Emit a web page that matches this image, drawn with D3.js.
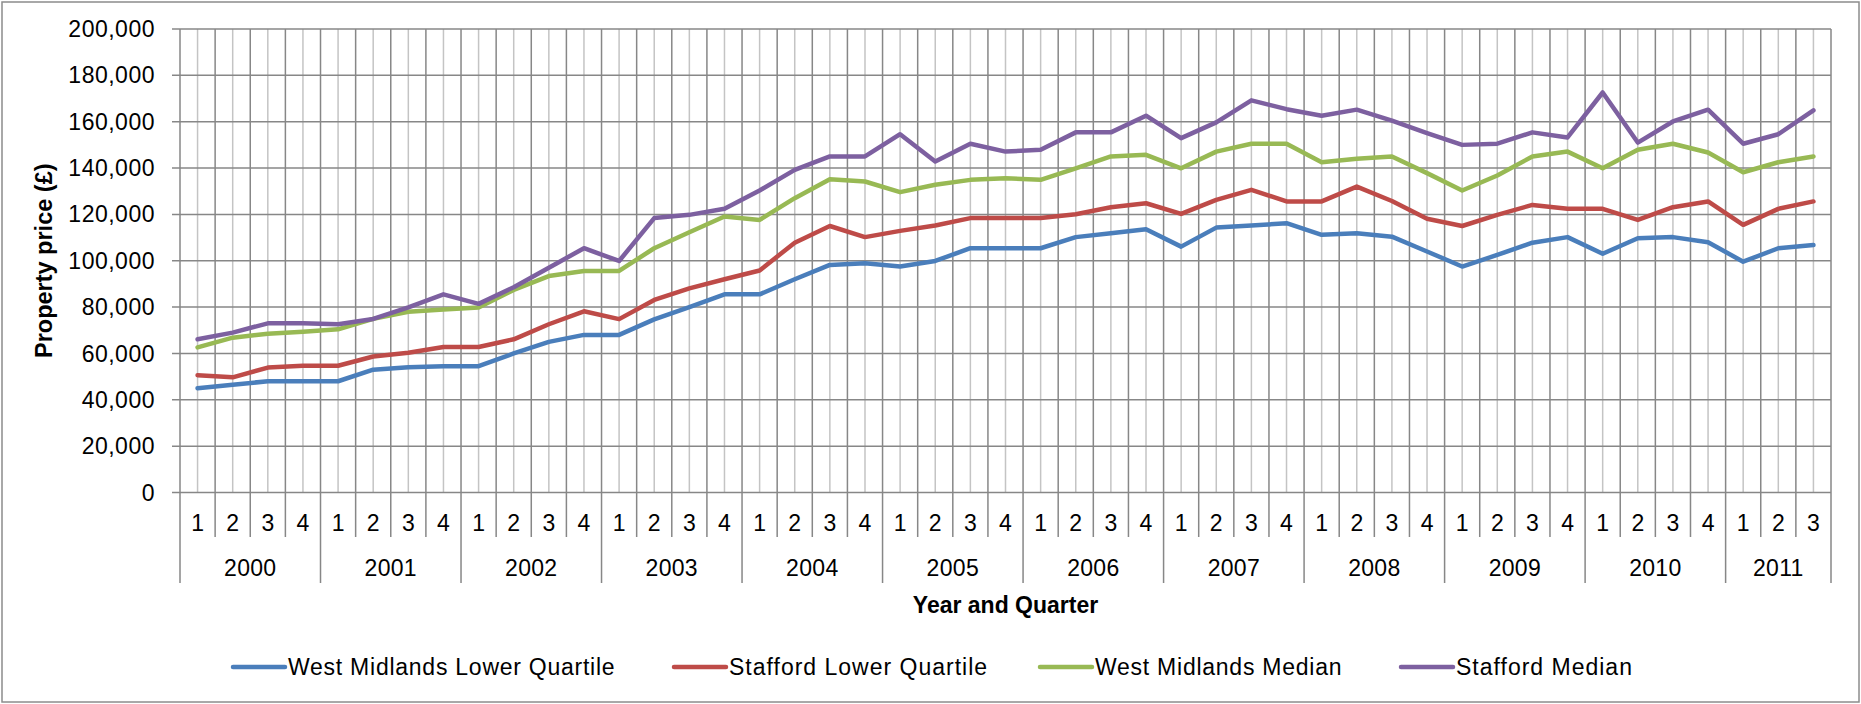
<!DOCTYPE html>
<html>
<head>
<meta charset="utf-8">
<script src="https://cdn.jsdelivr.net/npm/d3@7"></script>
<style>
  body { margin: 0; background: #fff; }
  text { font-family: "Liberation Sans", Arial, sans-serif; fill: #000; }
</style>
</head>
<body>
<div id="vis"></div>
<script>
var years = ["2000", "2001", "2002", "2003", "2004", "2005", "2006", "2007", "2008", "2009", "2010", "2011"];
var quartersPerYear = [4, 4, 4, 4, 4, 4, 4, 4, 4, 4, 4, 3];

var wmLower = [45000, 46500, 48000, 48000, 48000, 53000, 54000, 54500, 54500, 60000, 65000, 68000,
  68000, 74700, 80000, 85500, 85500, 92000, 98200, 98900, 97500, 99900, 105400, 105400,
  105400, 110200, 111900, 113600, 106100, 114300, 115200, 116200, 111200, 111900, 110400, 104000,
  97500, 102500, 107800, 110200, 103000, 109700, 110200, 108000, 99600, 105400, 106800];

var staffLower = [50600, 49700, 53900, 54700, 54700, 58700, 60300, 62800, 62800, 66100, 72600, 78200,
  74800, 83100, 88100, 92000, 95800, 107800, 115000, 110200, 112900, 115200, 118400, 118400,
  118400, 120100, 123100, 124800, 120200, 126300, 130600, 125600, 125600, 132000, 125800, 118100,
  115000, 119800, 124100, 122400, 122400, 117600, 123100, 125600, 115500, 122400, 125600];

var wmMedian = [62600, 66800, 68500, 69400, 70400, 74900, 78000, 79000, 79800, 87400, 93400, 95600,
  95600, 105400, 112300, 119100, 117600, 127000, 135200, 134200, 129600, 132800, 134900, 135600,
  134900, 139900, 145000, 145700, 139900, 147100, 150500, 150500, 142500, 144000, 145000, 137800,
  130300, 136800, 145000, 147100, 139900, 147900, 150500, 146700, 138200, 142500, 145000];

var staffMedian = [66100, 69000, 73000, 73000, 72600, 74900, 79900, 85500, 81400, 88600, 97000, 105400,
  99900, 118400, 119800, 122400, 130300, 139200, 145000, 145000, 154600, 142800, 150500, 147100,
  147900, 155400, 155400, 162600, 152900, 159700, 169200, 165400, 162600, 165200, 160500, 155100,
  150000, 150500, 155400, 153200, 172600, 151000, 160100, 165200, 150500, 154600, 164900];

var seriesNames = ["West Midlands Lower Quartile", "Stafford Lower Quartile", "West Midlands Median", "Stafford Median"];
var yTicks = [0, 20000, 40000, 60000, 80000, 100000, 120000, 140000, 160000, 180000, 200000];

(function run(){

  var width = 1861, height = 704;
  var plot = { left: 180, right: 1831, top: 29, bottom: 492.5 };

  var colors = d3.scaleOrdinal()
    .domain(seriesNames)
    .range(["#4a7ebb", "#be4b48", "#98b954", "#7d60a0"]);

  // one category per quarter
  var cats = [];
  years.forEach(function(y, i) {
    for (var q = 1; q <= quartersPerYear[i]; q++) cats.push({ year: y, q: q, key: y + "-" + q });
  });

  var x = d3.scaleBand()
    .domain(cats.map(function(d) { return d.key; }))
    .range([plot.left, plot.right])
    .padding(0);

  var yScale = d3.scaleLinear()
    .domain([0, 200000])
    .range([plot.bottom, plot.top]);

  var svg = d3.select("#vis")
    .append("svg")
      .attr("width", width)
      .attr("height", height);

  // outer chart border
  svg.append("rect")
    .attr("x", 2).attr("y", 2)
    .attr("width", width - 4).attr("height", height - 4)
    .attr("fill", "#fff")
    .attr("stroke", "#8c8c8c")
    .attr("stroke-width", 1.5);

  var grid = svg.append("g");

  // light lines through each data point
  grid.selectAll(".minor")
    .data(cats)
    .enter()
    .append("line")
      .attr("x1", function(d) { return x(d.key) + x.bandwidth() / 2; })
      .attr("x2", function(d) { return x(d.key) + x.bandwidth() / 2; })
      .attr("y1", plot.top)
      .attr("y2", plot.bottom)
      .attr("stroke", "#c4c4c4")
      .attr("stroke-width", 1.5);

  // dark lines on quarter boundaries, with tick going below the axis
  var bounds = cats.map(function(d) { return x(d.key); }).concat([plot.right]);
  var yearStarts = [];
  var acc = 0;
  quartersPerYear.forEach(function(n) { yearStarts.push(acc); acc += n; });
  yearStarts.push(acc);

  grid.selectAll(".major")
    .data(bounds)
    .enter()
    .append("line")
      .attr("x1", function(d) { return d; })
      .attr("x2", function(d) { return d; })
      .attr("y1", plot.top)
      .attr("y2", function(d, i) { return yearStarts.indexOf(i) >= 0 ? 583 : 537; })
      .attr("stroke", "#878787")
      .attr("stroke-width", 1.5);

  // horizontal gridlines
  grid.selectAll(".hgrid")
    .data(yTicks)
    .enter()
    .append("line")
      .attr("x1", plot.left - 8)
      .attr("x2", plot.right)
      .attr("y1", function(d) { return yScale(d); })
      .attr("y2", function(d) { return yScale(d); })
      .attr("stroke", "#878787")
      .attr("stroke-width", 1.5);

  // y tick labels
  svg.append("g")
    .selectAll("text")
    .data(yTicks)
    .enter()
    .append("text")
      .attr("x", 155)
      .attr("y", function(d) { return yScale(d); })
      .attr("dy", "0.35em")
      .attr("text-anchor", "end")
      .style("font-size", "23px")
      .style("letter-spacing", "0.5px")
      .text(d3.format(","));

  // quarter labels
  svg.append("g")
    .selectAll("text")
    .data(cats)
    .enter()
    .append("text")
      .attr("x", function(d) { return x(d.key) + x.bandwidth() / 2; })
      .attr("y", 523)
      .attr("dy", "0.35em")
      .attr("text-anchor", "middle")
      .style("font-size", "23px")
      .text(function(d) { return d.q; });

  // year labels
  svg.append("g")
    .selectAll("text")
    .data(years)
    .enter()
    .append("text")
      .attr("x", function(d, i) { return (bounds[yearStarts[i]] + bounds[yearStarts[i + 1]]) / 2; })
      .attr("y", 568)
      .attr("dy", "0.35em")
      .attr("text-anchor", "middle")
      .style("font-size", "23px")
      .style("letter-spacing", "0.3px")
      .text(function(d) { return d; });

  // axis titles
  svg.append("text")
    .attr("x", (plot.left + plot.right) / 2)
    .attr("y", 605)
    .attr("dy", "0.35em")
    .attr("text-anchor", "middle")
    .style("font-size", "23px")
    .style("font-weight", "bold")
    .text("Year and Quarter");

  svg.append("text")
    .attr("transform", "translate(52," + ((plot.top + plot.bottom) / 2) + ") rotate(-90)")
    .attr("text-anchor", "middle")
    .style("font-size", "23.5px")
    .style("font-weight", "bold")
    .text("Property price (£)");

  // lines
  var line = d3.line()
    .x(function(d, i) { return x(cats[i].key) + x.bandwidth() / 2; })
    .y(function(d) { return yScale(d); });

  var allSeries = [wmLower, staffLower, wmMedian, staffMedian];

  svg.append("g")
    .selectAll("path")
    .data(allSeries)
    .enter()
    .append("path")
      .attr("d", line)
      .attr("fill", "none")
      .attr("stroke", function(d, i) { return colors(seriesNames[i]); })
      .attr("stroke-width", 4.5)
      .attr("stroke-linejoin", "round")
      .attr("stroke-linecap", "round");

  // legend
  var legendX = [233, 674, 1040, 1401];
  var legend = svg.append("g")
    .selectAll("g")
    .data(seriesNames)
    .enter()
    .append("g")
      .attr("transform", function(d, i) { return "translate(" + legendX[i] + ",667)"; });

  legend.append("line")
    .attr("x1", 0).attr("x2", 52)
    .attr("y1", 0).attr("y2", 0)
    .attr("stroke", function(d) { return colors(d); })
    .attr("stroke-width", 4.5)
    .attr("stroke-linecap", "round");

  legend.append("text")
    .attr("x", 55)
    .attr("dy", "0.35em")
    .style("font-size", "23px")
    .style("letter-spacing", function(d) { return d.indexOf("Stafford") === 0 ? "1px" : "0.75px"; })
    .text(function(d) { return d; });

})();
</script>
</body>
</html>
